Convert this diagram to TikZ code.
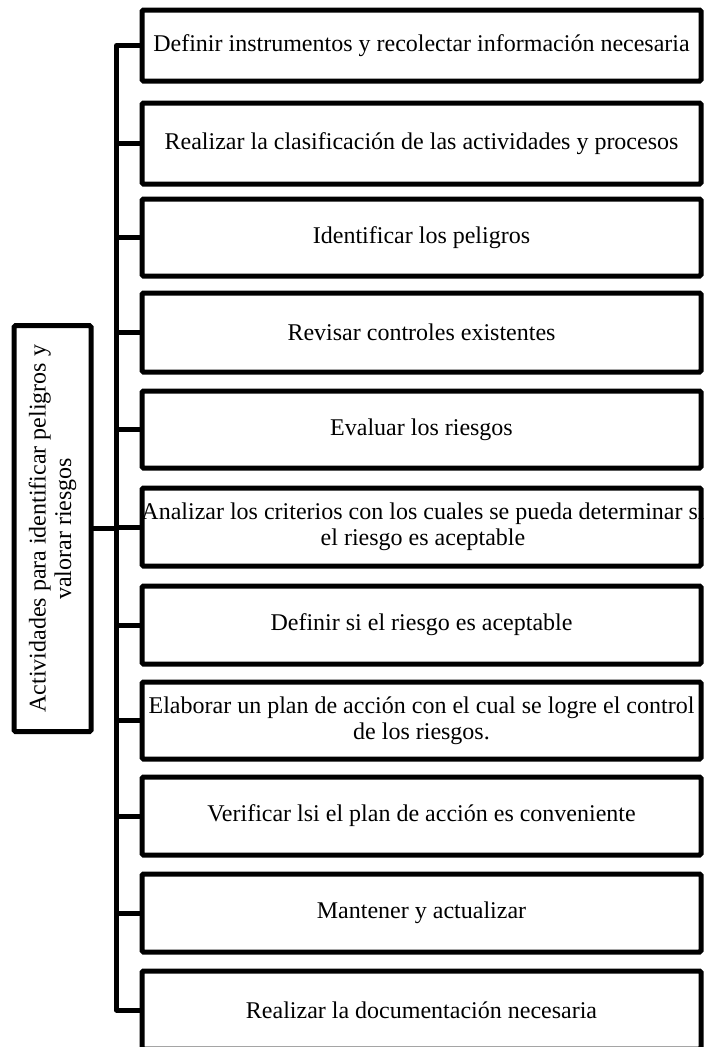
\documentclass[tikz,border=0pt]{standalone}
\usepackage{fontspec}
\setmainfont{Liberation Serif}
\begin{document}
\begin{tikzpicture}[x=1pt,y=-1pt,
  boxstyle/.style={draw=black, line width=5pt, rectangle, rounded corners=1.5pt, minimum width=559pt, inner sep=0pt, outer sep=0pt},
  txt/.style={font=\fontsize{24}{25.5}\selectfont, align=center, inner sep=0pt},
  conn/.style={draw=black, line width=5pt, line join=round}]
\fill[white] (0,0) rectangle (704,1047);
\useasboundingbox (0,0) rectangle (704,1047);
\node[boxstyle, minimum height=71pt, label={[txt]center:Definir instrumentos y recolectar información necesaria}] (b1) at (421.5,45.5) {};
\node[boxstyle, minimum height=81pt, label={[txt]center:Realizar la clasificación de las actividades y procesos}] (b2) at (421.5,143.5) {};
\node[boxstyle, minimum height=77pt, label={[txt]center:Identificar los peligros}] (b3) at (421.5,237.5) {};
\node[boxstyle, minimum height=79pt, label={[txt]center:Revisar controles existentes}] (b4) at (421.5,332.5) {};
\node[boxstyle, minimum height=77pt, label={[txt]center:Evaluar los riesgos}] (b5) at (421.5,429.5) {};
\node[boxstyle, minimum height=78pt, label={[txt, xshift=1.5pt]center:Analizar los criterios con los cuales se pueda determinar si\\el riesgo es aceptable}] (b6) at (421.5,527) {};
\node[boxstyle, minimum height=78pt, label={[txt]center:Definir si el riesgo es aceptable}] (b7) at (421.5,625) {};
\node[boxstyle, minimum height=77pt, label={[txt]center:Elaborar un plan de acción con el cual se logre el control\\de los riesgos.}] (b8) at (421.5,720.5) {};
\node[boxstyle, minimum height=78pt, label={[txt]center:Verificar lsi el plan de acción es conveniente}] (b9) at (421.5,816) {};
\node[boxstyle, minimum height=78pt, label={[txt]center:Mantener y actualizar}] (b10) at (421.5,913) {};
\node[boxstyle, minimum height=78pt, label={[txt]center:Realizar la documentación necesaria}] (b11) at (421.5,1010) {};
\node[boxstyle, minimum width=77pt, minimum height=406pt, label={[txt, rotate=90]center:Actividades para identificar peligros y\\valorar riesgos}] (root) at (52.5,528.7) {};
\coordinate (tr) at (116.5,0);
\draw[conn] (b1.west) -- (tr |- b1.west) -- (tr |- b11.west) -- (b11.west);
\foreach \b in {b2,b3,b4,b5,b6,b7,b8,b9,b10} {
  \draw[conn] (tr |- \b.west) -- (\b.west);
}
\draw[conn] (root.east) -- (tr |- root.east);
\end{tikzpicture}
\end{document}
